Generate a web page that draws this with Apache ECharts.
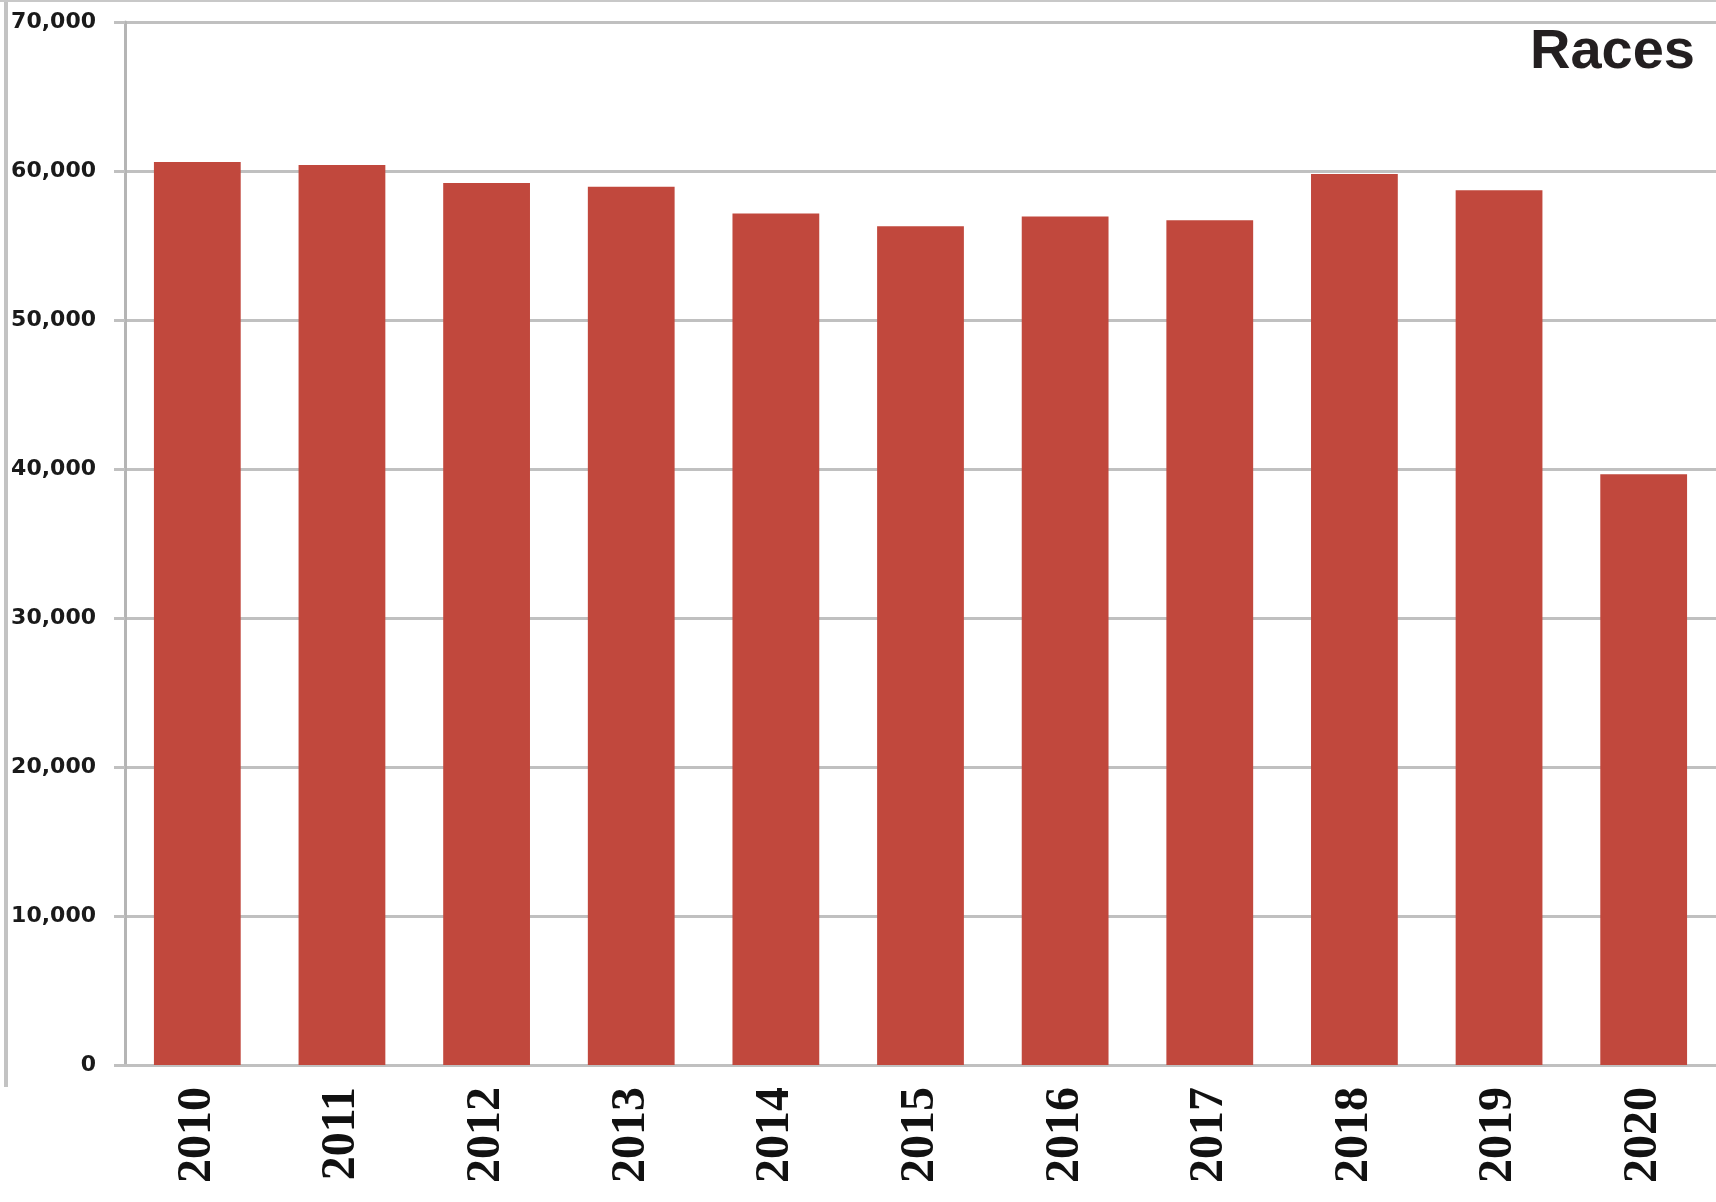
<!DOCTYPE html>
<html>
<head>
<meta charset="utf-8">
<script src="https://cdn.jsdelivr.net/npm/echarts@6/dist/echarts.min.js"></script>
<style>
html,body{margin:0;padding:0;background:#fff;}
#chart{width:1716px;height:1202px;}
</style>
</head>
<body>
<div id="chart"></div>
<script>
const years = ['2010','2011','2012','2013','2014','2015','2016','2017','2018','2019','2020'];
const races = [60600, 60400, 59200, 58950, 57150, 56300, 56950, 56700, 59800, 58700, 39650];
const yTicks = [0, 10000, 20000, 30000, 40000, 50000, 60000, 70000];
const titleText = 'Races';

const chart = echarts.init(document.getElementById('chart'), null, {renderer: 'canvas'});
const gridStyle = {color: '#c0c0c0', width: 3};
chart.setOption({
  animation: false,
  backgroundColor: '#ffffff',
  title: {
    text: titleText,
    right: 16,
    top: 20,
    textStyle: {fontFamily: 'Liberation Sans', fontWeight: 'bold', fontSize: 56, color: '#231f20'}
  },
  grid: {left: 125, right: 0, top: 22, bottom: 137, containLabel: false},
  xAxis: {
    type: 'category',
    data: years,
    axisLine: {show: true, lineStyle: gridStyle},
    axisTick: {show: false},
    axisLabel: {
      rotate: 90,
      margin: 22,
      fontFamily: 'Liberation Serif',
      fontWeight: 'bold',
      fontSize: 48,
      color: '#111'
    }
  },
  yAxis: {
    type: 'value',
    min: yTicks[0],
    max: yTicks[yTicks.length - 1],
    interval: 10000,
    axisLine: {show: true, lineStyle: {color: '#b5b5b5', width: 3}},
    axisTick: {show: true, length: 11, lineStyle: gridStyle},
    splitLine: {show: true, lineStyle: gridStyle},
    axisLabel: {
      margin: 29,
      fontFamily: 'DejaVu Sans',
      fontWeight: 'bold',
      fontSize: 22,
      color: '#1a1a1a',
      formatter: v => v.toLocaleString('en-US')
    }
  },
  series: [{
    type: 'bar',
    data: races,
    barCategoryGap: '40%',
    itemStyle: {color: '#c1483d'}
  }],
  graphic: [
    {type: 'line', shape: {x1: 6, y1: 0, x2: 6, y2: 1087}, style: {stroke: '#c3c3c3', lineWidth: 4}},
    {type: 'line', shape: {x1: 0, y1: 1, x2: 1716, y2: 1}, style: {stroke: '#c8c8c8', lineWidth: 2}}
  ]
});
</script>
</body>
</html>
